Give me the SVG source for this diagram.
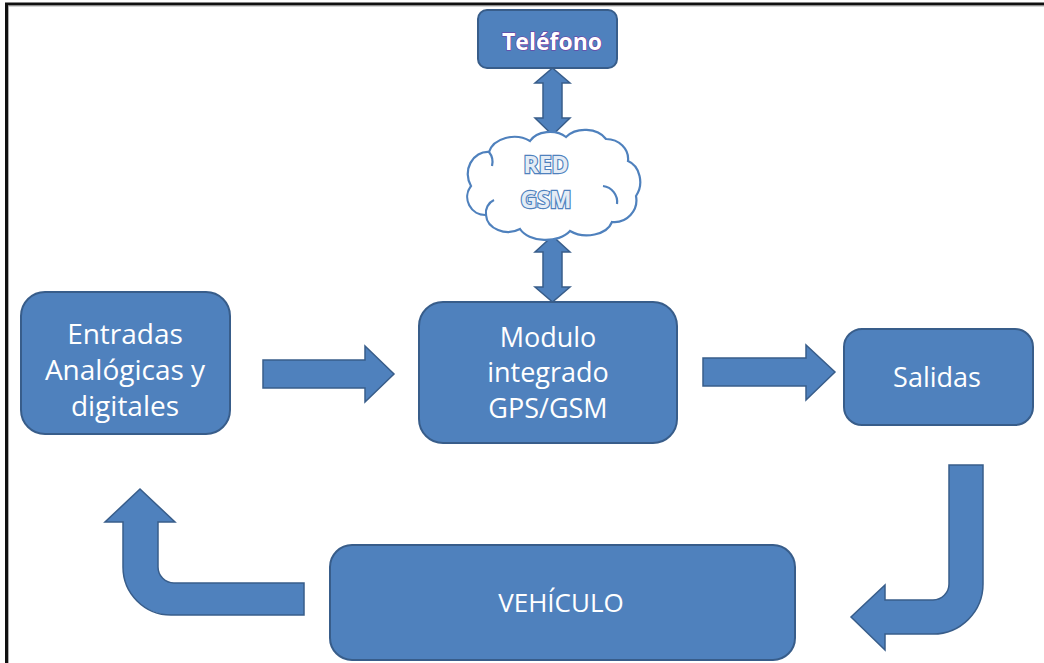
<svg xmlns="http://www.w3.org/2000/svg" width="1044" height="663" viewBox="0 0 1044 663">
  <style>
    .box { fill: #4F81BD; stroke: #385D8A; stroke-width: 2; }
    .arrow { fill: #4F81BD; stroke: #385D8A; stroke-width: 1.5; stroke-linejoin: miter; }
    .label { font-family: "Open Sans", "Liberation Sans", sans-serif; fill: #FFFFFF; text-anchor: middle; }
    .phone { font-family: "Open Sans", "Liberation Sans", sans-serif; font-weight: bold; font-size: 23px; fill: #FFFFFF; stroke: #7030A0; stroke-width: 1.2; paint-order: stroke fill; text-anchor: middle; }
    .net { font-family: "Open Sans", "Liberation Sans", sans-serif; font-weight: bold; font-size: 23px; fill: #E4ECF5; stroke: #4F81BD; stroke-width: 2.4; paint-order: stroke fill; text-anchor: middle; }
    .cloud { fill: #FFFFFF; stroke: #4F81BD; stroke-width: 2.2; }
    .cloud-inner { fill: none; stroke: #4F81BD; stroke-width: 2.2; }
  </style>

  <rect width="1044" height="663" fill="#FFFFFF"/>
  <!-- frame -->
  <path d="M6.5,663 V4 H1044" fill="none" stroke="#111111" stroke-width="3"/>
  <path d="M8.5,663 V6 H1044" fill="none" stroke="#9a9a9a" stroke-width="0.8"/>

  <!-- connectors -->
  <g id="connectors">
    <!-- Teléfono <-> RED GSM -->
    <path class="arrow" d="M552.5,68 L570,83 H562 V118 H570 L552.5,135 L535,118 H543 V83 H535 Z"/>
    <!-- RED GSM <-> Modulo -->
    <path class="arrow" d="M552.5,236 L570,252 H562 V287 H570 L552.5,302 L535,287 H543 V252 H535 Z"/>
    <!-- Entradas -> Modulo -->
    <path class="arrow" d="M263,360 H365 V346 L394,374 L365,402 V388 H263 Z"/>
    <!-- Modulo -> Salidas -->
    <path class="arrow" d="M703,358 H806 V345 L835,372 L806,400 V386 H703 Z"/>
    <!-- Salidas -> VEHÍCULO -->
    <path class="arrow" d="M949,465 H983 V584 A50,50 0 0 1 933,634 H885 V650 L851,617 L885,585 V600 H933 A16,16 0 0 0 949,584 Z"/>
    <!-- VEHÍCULO -> Entradas -->
    <path class="arrow" d="M304,583 H174 A16,16 0 0 1 158,567 V522 H175 L140,489 L105,522 H123 V567 A48,48 0 0 0 171,615 H304 Z"/>
  </g>

  <g id="telefono">
    <rect class="box" x="478" y="10" width="139" height="58" rx="9"/>
    <text class="phone" x="552" y="50">Teléfono</text>
  </g>

  <g id="red-gsm">
    <path class="cloud" d="M471,186 A20,22 0 0 1 489,152 A26,20 0 0 1 530,141 A22,16 0 0 1 566,137 A24,18 0 0 1 606,139 A22,20 0 0 1 628,161 A18,22 0 0 1 636,196 A22,22 0 0 1 612,222 A26,18 0 0 1 570,231 A28,18 0 0 1 520,229 A22,18 0 0 1 486,215 A18,18 0 0 1 471,186 Z"/>
    <path class="cloud-inner" d="M603,186 A16,16 0 0 1 617,204"/>
    <path class="cloud-inner" d="M486,215 A14,14 0 0 1 494,200"/>
    <path class="cloud-inner" d="M489,152 A16,16 0 0 1 492,166"/>
    <text class="net" x="546" y="173">RED</text>
    <text class="net" x="546" y="208">GSM</text>
  </g>

  <g id="entradas">
    <rect class="box" x="21" y="292" width="209" height="142" rx="24"/>
    <text class="label" font-size="28" x="125" y="344">Entradas</text>
    <text class="label" font-size="28" x="125" y="380">Analógicas y</text>
    <text class="label" font-size="28" x="125" y="416">digitales</text>
  </g>

  <g id="modulo">
    <rect class="box" x="419" y="302" width="258" height="141" rx="24"/>
    <text class="label" font-size="27" x="548" y="347">Modulo</text>
    <text class="label" font-size="27" x="548" y="382">integrado</text>
    <text class="label" font-size="27" x="548" y="418">GPS/GSM</text>
  </g>

  <g id="salidas">
    <rect class="box" x="844" y="329" width="189" height="96" rx="18"/>
    <text class="label" font-size="27" x="937" y="387">Salidas</text>
  </g>

  <g id="vehiculo">
    <rect class="box" x="330" y="545" width="465" height="115" rx="22"/>
    <text class="label" font-size="26" x="561" y="612">VEHÍCULO</text>
  </g>
</svg>
